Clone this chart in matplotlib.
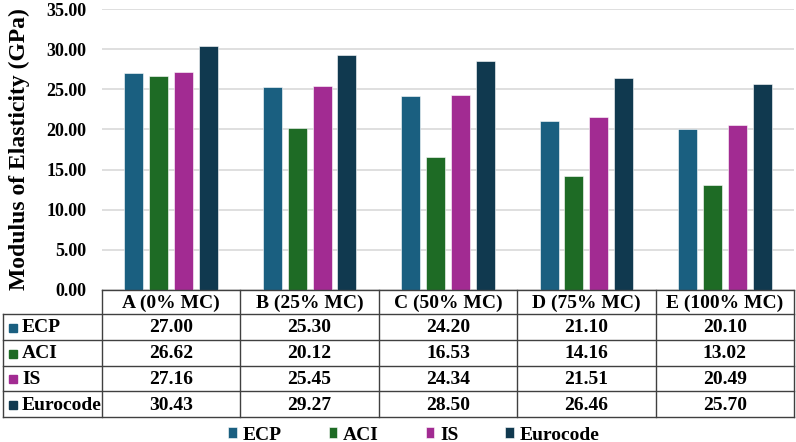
import matplotlib.pyplot as plt
import matplotlib.patches as patches
import numpy as np

categories = ['A (0% MC)', 'B (25% MC)', 'C (50% MC)', 'D (75% MC)', 'E (100% MC)']
series = ['ECP', 'ACI', 'IS', 'Eurocode']
ecp = [27.00, 25.30, 24.20, 21.10, 20.10]
aci = [26.62, 20.12, 16.53, 14.16, 13.02]
is_code = [27.16, 25.45, 24.34, 21.51, 20.49]
eurocode = [30.43, 29.27, 28.50, 26.46, 25.70]
colors = ['#1a5f80', '#1e6b25', '#a22b92', '#10394f']
yticks = [0, 5, 10, 15, 20, 25, 30, 35]

values = [ecp, aci, is_code, eurocode]

plt.rcParams['font.family'] = ['Liberation Serif', 'DejaVu Serif']
plt.rcParams['font.weight'] = 'bold'

W, H = 796, 442
fig = plt.figure(figsize=(W / 100, H / 100), dpi=100)

# pixel layout
x0, x1 = 102, 794
y_top, y_zero = 9, 290
row_lines = [290, 314, 340, 366, 391, 417]

ax = fig.add_axes([x0 / W, 1 - y_zero / H, (x1 - x0) / W, (y_zero - y_top) / H])
x = np.arange(len(categories))
for i, (vals, c) in enumerate(zip(values, colors)):
    ax.bar(x + (i - 1.5) * 0.18, vals, width=0.137, color=c, edgecolor='white',
           linewidth=0.4, label=series[i], zorder=3)
ax.set_xlim(-0.5, len(categories) - 0.5)
ax.set_ylim(0, 35)
ax.set_yticks(yticks)
ax.set_yticklabels([f'{v:.2f}' for v in yticks], fontsize=13, fontweight='bold')
ax.set_xticks([])
ax.grid(axis='y', color='#d9d9d9', linewidth=1.2, zorder=0)
for s in ['top', 'right', 'left', 'bottom']:
    ax.spines[s].set_visible(False)
ax.tick_params(axis='y', length=0, pad=11)
ax.set_ylabel('Modulus of Elasticity (GPa)', fontsize=17, fontweight='bold', labelpad=12)

# data table drawn in pixel coordinates
tax = fig.add_axes([0, 0, 1, 1])
tax.set_xlim(0, W)
tax.set_ylim(H, 0)
tax.axis('off')
col_w = (x1 - x0) / len(categories)
lc = '#404040'
lw = 1.0
tax.plot([x0, x1], [row_lines[0]] * 2, color=lc, lw=lw)
for yl in row_lines[1:]:
    tax.plot([3, x1], [yl, yl], color=lc, lw=lw)
tax.plot([3, 3], [row_lines[1], row_lines[-1]], color=lc, lw=lw)
for j in range(len(categories) + 1):
    xv = x0 + j * col_w
    tax.plot([xv, xv], [row_lines[0], row_lines[-1]], color=lc, lw=lw)

fs = 14
for j, cat in enumerate(categories):
    tax.text(x0 + (j + 0.5) * col_w, (row_lines[0] + row_lines[1]) / 2 + 1, cat,
             ha='center', va='center', fontsize=fs, fontweight='bold')
for i, name in enumerate(series):
    yc = (row_lines[i + 1] + row_lines[i + 2]) / 2 + 1
    tax.add_patch(patches.Rectangle((9, yc - 4.5), 8, 8, color=colors[i]))
    tax.text(22, yc, name, ha='left', va='center', fontsize=fs, fontweight='bold')
    for j in range(len(categories)):
        tax.text(x0 + (j + 0.5) * col_w, yc, f'{values[i][j]:.2f}',
                 ha='center', va='center', fontsize=fs, fontweight='bold')

fig.legend(loc='center', bbox_to_anchor=(414 / W, 1 - 435 / H), ncol=4, frameon=False,
           handlelength=0.45, handleheight=0.45, handletextpad=0.3, columnspacing=2.4,
           prop={'size': fs, 'weight': 'bold'})

fig.savefig('out.png', dpi=100)
